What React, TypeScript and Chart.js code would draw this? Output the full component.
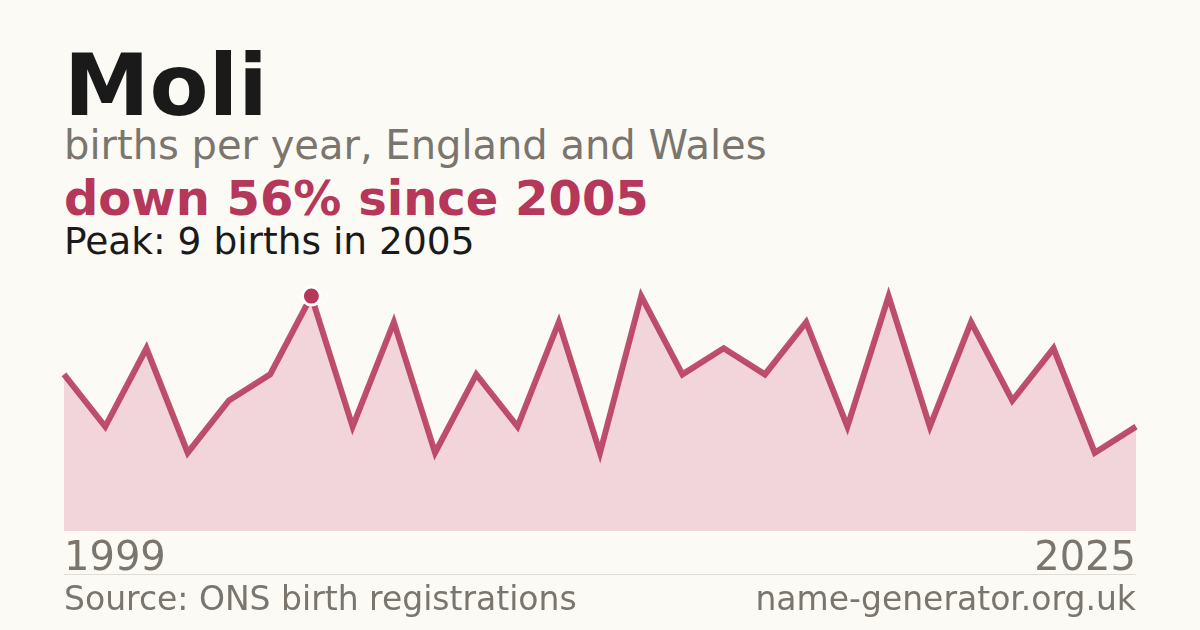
import { useRef, useEffect } from "react";
import { Chart, registerables } from "chart.js";

Chart.register(...registerables);

const years: string[] = [
  "1999", "2000", "2001", "2002", "2003", "2004", "2005", "2006", "2007",
  "2008", "2009", "2010", "2011", "2012", "2013", "2014", "2015", "2016",
  "2017", "2018", "2019", "2020", "2021", "2022", "2023", "2024", "2025",
];
const births: number[] = [
  6, 4, 7, 3, 5, 6, 9, 4, 8,
  3, 6, 4, 8, 3, 9, 6, 7, 6,
  8, 4, 9, 4, 8, 5, 7, 3, 4,
];
const peakIndex = 6;

const FONT = "'DejaVu Sans', sans-serif";
const RED = "#b5375a";
const GREY = "#7a756d";
// chart.js pads the x axis sideways by the tick padding, so the box is widened by it
const TICK_PAD = 5;

const BirthsChart = () => {
  const chartRef = useRef<HTMLCanvasElement | null>(null);

  useEffect(() => {
    const ctx = chartRef.current?.getContext("2d");
    if (!ctx) return;

    const myChart = new Chart(ctx, {
      type: "line",
      data: {
        labels: years,
        datasets: [
          {
            data: births,
            borderColor: "rgba(181,55,90,0.88)",
            borderWidth: 6,
            backgroundColor: "#f2d5da",
            fill: "origin",
            tension: 0,
            pointRadius: (c: any) => (c.dataIndex === peakIndex ? 9 : 0),
            pointBackgroundColor: RED,
            pointBorderColor: "#ffffff",
            pointBorderWidth: 3,
            pointHoverRadius: 0,
          },
        ],
      },
      options: {
        animation: false,
        responsive: true,
        maintainAspectRatio: false,
        layout: { padding: 0 },
        events: [],
        plugins: {
          legend: { display: false },
          tooltip: { enabled: false },
        },
        scales: {
          y: {
            display: false,
            min: 0,
            max: 10,
          },
          x: {
            offset: false,
            grid: { display: false, drawTicks: false },
            border: { display: false },
            ticks: {
              autoSkip: false,
              maxRotation: 0,
              align: "inner",
              padding: TICK_PAD,
              color: GREY,
              font: { family: FONT, size: 40 },
              callback: (_v: any, i: number) =>
                i === 0 || i === years.length - 1 ? years[i] : null,
            },
          },
        },
      },
    });

    return () => {
      myChart.destroy();
    };
  }, []);

  return <canvas ref={chartRef}></canvas>;
};

const text = (
  top: number,
  size: number,
  color: string,
  bold = false
): React.CSSProperties => ({
  position: "absolute",
  left: 64,
  top,
  fontSize: size,
  lineHeight: 1,
  fontWeight: bold ? "bold" : "normal",
  color,
  whiteSpace: "nowrap",
});

export default function App() {
  useEffect(() => {
    document.body.style.margin = "0";
  }, []);

  return (
    <div
      style={{
        position: "relative",
        width: 1200,
        height: 630,
        background: "#fbfaf5",
        fontFamily: FONT,
        overflow: "hidden",
      }}
    >
      <div style={text(42, 86, "#1a1a1a", true)}>Moli</div>
      <div style={text(125, 40, GREY)}>births per year, England and Wales</div>
      <div style={text(174, 48, RED, true)}>down 56% since 2005</div>
      <div style={text(223, 37.5, "#1a1a1a")}>Peak: 9 births in 2005</div>
      <div
        style={{
          position: "absolute",
          left: 64 - TICK_PAD,
          top: 270,
          width: 1072 + 2 * TICK_PAD,
          height: 319,
        }}
      >
        <BirthsChart />
      </div>
      <div
        style={{
          position: "absolute",
          left: 64,
          top: 574,
          width: 1072,
          height: 1,
          background: "#e0ddd6",
        }}
      />
      <div style={text(582, 33, GREY)}>Source: ONS birth registrations</div>
      <div style={{ ...text(582, 33, GREY), left: "auto", right: 64 }}>
        name-generator.org.uk
      </div>
    </div>
  );
}
